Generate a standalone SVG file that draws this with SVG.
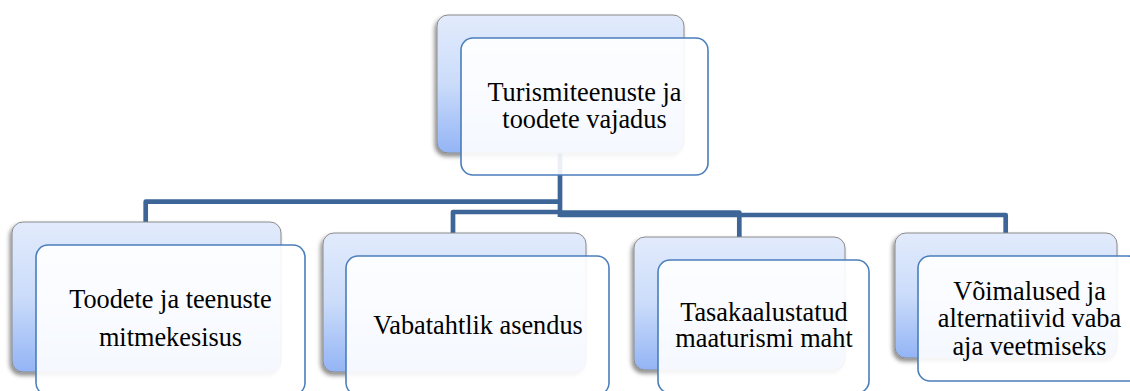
<svg xmlns="http://www.w3.org/2000/svg" width="1130" height="391" viewBox="0 0 1130 391">
<defs>
<linearGradient id="bg" x1="0" y1="0" x2="0" y2="1">
<stop offset="0" stop-color="#e2ebfc"/>
<stop offset="0.5" stop-color="#cbdcfa"/>
<stop offset="1" stop-color="#93b4f5"/>
</linearGradient>
<filter id="sh" x="-10%" y="-10%" width="120%" height="130%">
<feDropShadow dx="-2" dy="3" stdDeviation="2" flood-color="#000" flood-opacity="0.45"/>
</filter>
</defs>
<style>
.back{fill:url(#bg);stroke:#8a8a8a;stroke-width:1;filter:url(#sh)}
.front{fill:#ffffff;fill-opacity:0.9;stroke:#4a7ebb;stroke-width:1.6}
.conn{fill:none;stroke:#3d6597;stroke-width:4.7;stroke-linejoin:round}
text{font-family:"Liberation Serif","Times New Roman",serif;font-size:26.3px;text-anchor:middle;fill:#000}
</style>
<g id="connectors">
<path class="conn" d="M560,153 V217"/>
<path class="conn" d="M560,201.7 H145.7 V223"/>
<path class="conn" d="M560,212 H453 V233"/>
<path class="conn" d="M560,212.6 H739.3 V237"/>
<path class="conn" d="M560,215 H1005.7 V233"/>
</g>
<g id="node-top">
<rect class="back" x="437" y="15" width="247" height="138" rx="11"/>
<rect class="front" x="461" y="38" width="247" height="137" rx="12"/>
<text x="584.5" y="100.5">Turismiteenuste ja</text>
<text x="584.5" y="128">toodete vajadus</text>
</g>
<g id="node-1">
<rect class="back" x="12" y="222" width="269" height="150" rx="11"/>
<rect class="front" x="36" y="245" width="269" height="150" rx="12"/>
<text x="170.5" y="308">Toodete ja teenuste</text>
<text x="170.5" y="346">mitmekesisus</text>
</g>
<g id="node-2">
<rect class="back" x="323" y="233" width="263" height="139" rx="11"/>
<rect class="front" x="346" y="256" width="263" height="139" rx="12"/>
<text x="478" y="334">Vabatahtlik asendus</text>
</g>
<g id="node-3">
<rect class="back" x="634" y="237" width="211" height="133" rx="11"/>
<rect class="front" x="658" y="260" width="211" height="133" rx="12"/>
<text x="764" y="321">Tasakaalustatud</text>
<text x="764" y="347">maaturismi maht</text>
</g>
<g id="node-4">
<rect class="back" x="895" y="233" width="222" height="125" rx="11"/>
<rect class="front" x="918" y="256" width="222" height="125" rx="12"/>
<text x="1029.5" y="300">Võimalused ja</text>
<text x="1029.5" y="327">alternatiivid vaba</text>
<text x="1029.5" y="354.5">aja veetmiseks</text>
</g>
</svg>
